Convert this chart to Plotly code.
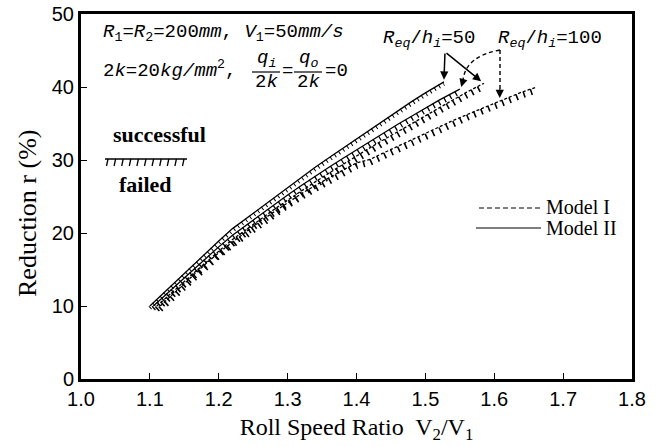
import plotly.graph_objects as go

# ---- data ----
A_v = [1.10, 1.12, 1.14, 1.16, 1.18, 1.20, 1.22, 1.24, 1.26, 1.28, 1.30, 1.32, 1.34, 1.36, 1.38, 1.40, 1.42, 1.44, 1.46, 1.48, 1.50, 1.527]
A_r = [10.0, 11.8, 13.5, 15.3, 17.1, 18.9, 20.6, 22.0, 23.5, 24.9, 26.3, 27.7, 29.0, 30.3, 31.6, 32.9, 34.2, 35.5, 36.7, 38.0, 39.2, 40.7]

B_v = [1.105, 1.12, 1.14, 1.16, 1.18, 1.20, 1.22, 1.24, 1.26, 1.28, 1.30, 1.32, 1.34, 1.36, 1.38, 1.40, 1.42, 1.44, 1.46, 1.48, 1.50, 1.52, 1.55]
B_r = [10.0, 11.3, 13.0, 14.7, 16.4, 18.1, 19.7, 21.1, 22.5, 23.9, 25.2, 26.5, 27.8, 29.0, 30.2, 31.4, 32.6, 33.7, 34.9, 36.0, 37.1, 38.2, 39.7]

C_v = [1.11, 1.12, 1.14, 1.16, 1.18, 1.20, 1.22, 1.24, 1.26, 1.28, 1.30, 1.32, 1.34, 1.36, 1.38, 1.40, 1.42, 1.44, 1.46, 1.48, 1.50, 1.52, 1.54, 1.56, 1.585]
C_r = [10.0, 10.8, 12.5, 14.2, 15.9, 17.5, 19.1, 20.5, 21.9, 23.2, 24.5, 25.8, 27.0, 28.2, 29.4, 30.6, 31.7, 32.8, 33.9, 35.0, 36.1, 37.2, 38.3, 39.3, 40.5]

D_v = [1.115, 1.14, 1.16, 1.18, 1.20, 1.22, 1.24, 1.26, 1.28, 1.30, 1.32, 1.34, 1.36, 1.38, 1.40, 1.42, 1.44, 1.46, 1.48, 1.50, 1.52, 1.54, 1.56, 1.58, 1.60, 1.62, 1.64, 1.662]
D_r = [10.0, 12.2, 14.0, 15.7, 17.3, 18.8, 20.2, 21.6, 22.9, 24.2, 25.4, 26.5, 27.6, 28.6, 29.6, 30.1, 31.0, 31.9, 32.8, 33.7, 34.6, 35.4, 36.2, 37.0, 37.8, 38.6, 39.3, 40.0]

x_ticks = [1.0, 1.1, 1.2, 1.3, 1.4, 1.5, 1.6, 1.7, 1.8]
y_ticks = [0, 10, 20, 30, 40, 50]

W, H = 657, 447
L, R, T, B = 81, 632, 14, 379


def px(x):
    return (x - L) / (R - L)


def py(y):
    return (B - y) / (B - T)


fig = go.Figure()

# (v, r, base dash, hatch width, hatch offset, hatch dash)
curves = [
    (A_v, A_r, "solid", 4, 0.28, "1px,4px"),
    (B_v, B_r, "solid", 5, 0.35, "1.3px,5px"),
    (C_v, C_r, "3px,2px", 6, 0.45, "1.6px,5.5px"),
    (D_v, D_r, "3px,2px", 6, 0.45, "1.6px,6px"),
]
for v, r, dash, hw, off, hdash in curves:
    fig.add_trace(go.Scatter(
        x=v, y=r, mode="lines",
        line=dict(color="black", width=1.3, dash=dash),
        showlegend=False, hoverinfo="skip"))
    # failure hatching drawn just below each boundary line
    fig.add_trace(go.Scatter(
        x=v, y=[val - off for val in r], mode="lines",
        line=dict(color="black", width=hw, dash=hdash),
        showlegend=False, hoverinfo="skip"))

serif = "Liberation Serif"
mono = "Liberation Mono"
fs = 19
ann = []
shapes = []


def txt(x, y, text, size=fs, family=mono, anchor="left", angle=0):
    ann.append(dict(x=px(x), y=py(y), xref="paper", yref="paper", xanchor=anchor, yanchor="middle",
                    text=text, showarrow=False, textangle=angle,
                    font=dict(family=family, size=size, color="black")))


# parameter text
txt(101, 33, "<i>R</i><sub>1</sub>=<i>R</i><sub>2</sub>=200<i>mm</i>, <i>V</i><sub>1</sub>=50<i>mm/s</i>")
txt(101, 69, "2<i>k</i>=20<i>kg/mm</i><sup>2</sup>,")
for cx, num in [(266, "<i>q</i><sub><i>i</i></sub>"), (308, "<i>q</i><sub><i>o</i></sub>")]:
    txt(cx, 59, num, anchor="center")
    txt(cx, 82, "2<i>k</i>", anchor="center")
    shapes.append(dict(type="line", xref="paper", yref="paper", x0=px(cx - 14), x1=px(cx + 14),
                       y0=py(72), y1=py(72), line=dict(color="black", width=1.2)))
txt(287, 71, "=", anchor="center")
txt(323, 71, "=0")

# R_eq/h_i labels
txt(381, 39, "<i>R</i><sub><i>eq</i></sub>/<i>h</i><sub><i>i</i></sub>=50")
txt(496, 39, "<i>R</i><sub><i>eq</i></sub>/<i>h</i><sub><i>i</i></sub>=100")

# solid arrows for R_eq/h_i = 50 (tail near the label, head at line ends)
for tx, ty in [(A_v[-1], A_r[-1] + 0.3), (C_v[-1] - 0.004, C_r[-1] + 0.3)]:
    ann.append(dict(x=tx, y=ty, xref="x", yref="y", ax=1.5285, ay=44.8,
                    axref="x", ayref="y", showarrow=True, arrowhead=2,
                    arrowsize=1.1, arrowwidth=1.5, arrowcolor="black", text=""))

# dashed arrows for R_eq/h_i = 100
ox, oy = px(500), py(50)
shapes.append(dict(type="path", xref="paper", yref="paper",
                   path=f"M {ox} {oy} Q {px(466)} {py(56)} {px(463)} {py(80)}",
                   line=dict(color="black", width=1.4, dash="4px,3px")))
shapes.append(dict(type="line", xref="paper", yref="paper", x0=ox, y0=oy, x1=px(500), y1=py(90),
                   line=dict(color="black", width=1.4, dash="4px,3px")))
ann.append(dict(x=B_v[-1] + 0.002, y=B_r[-1] + 0.3, xref="x", yref="y", ax=1.556, ay=41.3,
                axref="x", ayref="y", showarrow=True, arrowhead=2, arrowsize=1.1,
                arrowwidth=1.5, arrowcolor="black", text=""))
ann.append(dict(x=1.608, y=38.5, xref="x", yref="y", ax=1.608, ay=39.9,
                axref="x", ayref="y", showarrow=True, arrowhead=2, arrowsize=1.1,
                arrowwidth=1.5, arrowcolor="black", text=""))

# successful / failed key
txt(159, 134, "<b>successful</b>", size=22, family=serif, anchor="center")
txt(145, 184, "<b>failed</b>", size=22, family=serif, anchor="center")
shapes.append(dict(type="line", xref="paper", yref="paper", x0=px(105), x1=px(187), y0=py(159), y1=py(159),
                   line=dict(color="black", width=1.5)))
for k in range(11):
    hx = 108 + k * 7.6
    shapes.append(dict(type="line", xref="paper", yref="paper", x0=px(hx), x1=px(hx - 1.5),
                       y0=py(159), y1=py(166), line=dict(color="black", width=1.3)))

# Model legend
shapes.append(dict(type="line", xref="paper", yref="paper", x0=px(479), x1=px(541), y0=py(208), y1=py(208),
                   line=dict(color="black", width=1, dash="5px,3px")))
shapes.append(dict(type="line", xref="paper", yref="paper", x0=px(476), x1=px(541), y0=py(228), y1=py(228),
                   line=dict(color="black", width=1)))
txt(544, 207, "Model I", size=20, family=serif)
txt(544, 228, "Model II", size=20, family=serif)

# y-axis title (as annotation to match its vertical position)
txt(27, 213, "Reduction r (%)", size=26, family=serif, anchor="center", angle=-90)

axis_common = dict(showline=True, linecolor="black", linewidth=3, mirror=True,
                   ticks="inside", ticklen=6, tickwidth=1, tickcolor="black",
                   showgrid=False, zeroline=False,
                   tickfont=dict(family="Liberation Sans", size=20, color="black"))

fig.update_layout(
    width=W, height=H,
    margin=dict(l=L, r=W - R, t=T, b=H - B, autoexpand=False),
    paper_bgcolor="white", plot_bgcolor="white",
    xaxis=dict(range=[1.0, 1.8], tickvals=x_ticks, ticktext=[f"{t:.1f}" for t in x_ticks],
               title=dict(text="Roll Speed Ratio  V<sub>2</sub>/V<sub>1</sub>",
                          font=dict(family=serif, size=24, color="black"), standoff=10),
               **axis_common),
    yaxis=dict(range=[0, 50], tickvals=y_ticks, **axis_common),
    annotations=ann, shapes=shapes, showlegend=False,
)

fig.write_html("out.html", config={"displayModeBar": False},
               post_script="document.body.style.margin='0px';")
